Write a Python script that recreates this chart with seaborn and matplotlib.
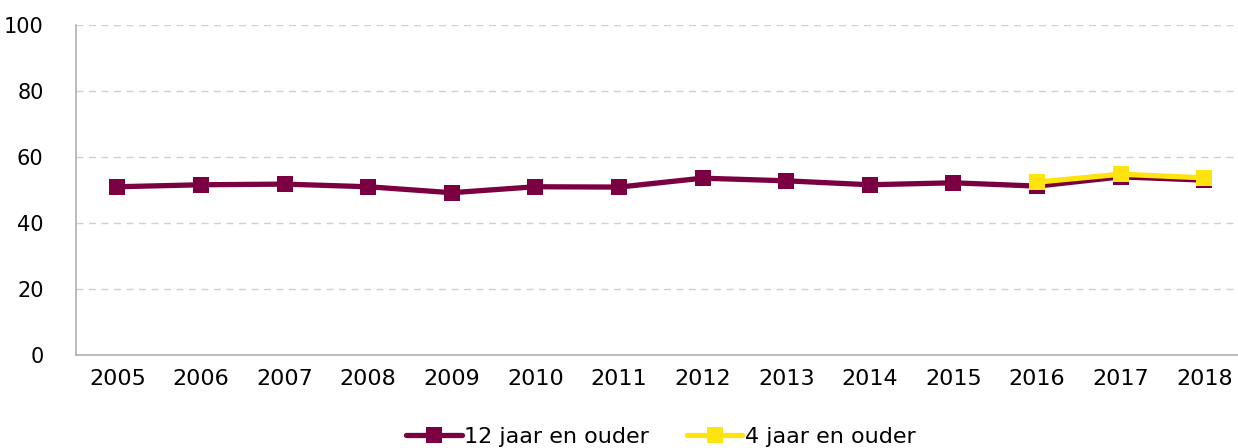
import numpy as np
import pandas as pd
import matplotlib
matplotlib.use("Agg")
import matplotlib.pyplot as plt
import seaborn as sns

years = list(range(2005, 2019))
ouder12 = [50.9, 51.5, 51.7, 50.9, 49.1, 50.9, 50.8, 53.5, 52.7, 51.5, 52.1, 51.1, 53.9, 52.9]
years4 = [2016, 2017, 2018]
ouder4 = [52.3, 54.7, 53.6]
labels = ["12 jaar en ouder", "4 jaar en ouder"]
colors = ["#7B0041", "#FFE30F"]

df = pd.concat([
    pd.DataFrame({"jaar": years, "waarde": ouder12, "groep": labels[0]}),
    pd.DataFrame({"jaar": years4, "waarde": ouder4, "groep": labels[1]}),
])

sns.set_style("white")
plt.rcParams["font.family"] = ["DejaVu Sans"]
plt.rcParams["text.color"] = "black"

fig, ax = plt.subplots(figsize=(12.38, 4.48), dpi=100)
sns.lineplot(data=df, x="jaar", y="waarde", hue="groep", hue_order=labels,
             palette=dict(zip(labels, colors)), marker="s", markersize=11,
             markeredgewidth=0, linewidth=3.8, ax=ax)

ax.set_xlim(2004.5, 2018.5)
ax.set_ylim(0, 100)
ax.set_xticks(years)
ax.set_xticklabels([str(y) for y in years])
ax.set_yticks(range(0, 101, 20))
ax.tick_params(axis="both", length=0, labelcolor="black")
ax.tick_params(axis="x", labelsize=16, pad=10)
ax.tick_params(axis="y", labelsize=15, pad=23)
ax.yaxis.grid(True, color="#d0d0d0", linestyle=(0, (5, 4)), linewidth=1)
ax.set_xlabel("")
ax.set_ylabel("")
for s in ["top", "right"]:
    ax.spines[s].set_visible(False)
for s in ["left", "bottom"]:
    ax.spines[s].set_color("#b0b0b0")
    ax.spines[s].set_linewidth(1.2)

ax.legend(loc="upper center", bbox_to_anchor=(0.5, -0.17), ncol=2, frameon=False,
          fontsize=16, handlelength=2.5, handletextpad=0.1, columnspacing=1.7,
          borderpad=0.2)

fig.subplots_adjust(left=0.061, right=1.0065, top=0.945, bottom=0.208)
fig.savefig("out.png", dpi=100)
